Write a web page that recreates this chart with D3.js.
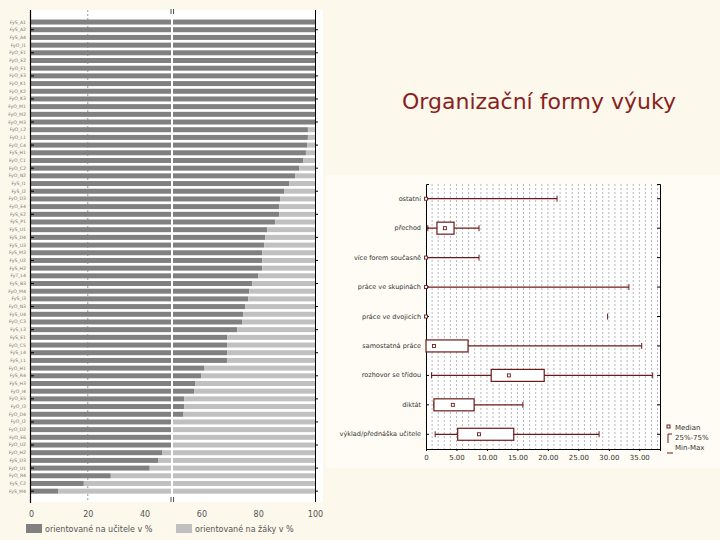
<!DOCTYPE html>
<html>
<head>
<meta charset="utf-8">
<script src="https://cdn.jsdelivr.net/npm/d3@7"></script>
<style>
  body { margin: 0; background: #fcf8ec; }
  svg { display: block; }
  text { font-family: "DejaVu Sans", sans-serif; }
</style>
</head>
<body>
<div id="chart"></div>
<script>
// left chart: share of lessons per teacher
var teacherCodes = ["FyS_A1", "FyS_A2", "FyS_A4", "FyO_I1", "FyO_E1", "FyO_E2", "FyO_F1", "FyO_E3",
  "FyO_K1", "FyO_K2", "FyO_K3", "FyO_M1", "FyO_M2", "FyO_M3", "FyO_L2", "FyO_L1", "FyO_C4", "FyS_H1",
  "FyO_C1", "FyO_C2", "FyO_N2", "FyS_I1", "FyS_I2", "FyO_D3", "FyO_E4", "FyS_E2", "FyS_P1", "FyS_U1",
  "FyS_D4", "FyS_U3", "FyS_M3", "FyS_U2", "FyS_H2", "FyT_L4", "FyS_B3", "FyO_M4", "FyS_I3", "FyO_N3",
  "FyS_U4", "FyO_C3", "FyS_L3", "FyS_E1", "FyO_C5", "FyS_L4", "FyS_L1", "FyO_H1", "FyS_R4", "FyS_H3",
  "FyO_I4", "FyO_E5", "FyO_I3", "FyO_D4", "FyO_I2", "FyO_D2", "FyO_E6", "FyO_U2", "FyO_H2", "FyS_D3",
  "FyO_U1", "FyO_R4", "FyS_C2", "FyS_M4"];
var teacherPct = [100, 100, 100, 100, 100, 100, 100, 100, 100, 100, 100, 100, 100, 100,
  97.5, 97.5, 97.2, 96.8, 95.8, 94.4, 93.0, 90.9, 89.1, 87.7, 87.4, 87.4, 86.0, 83.2, 82.5, 82.1,
  81.4, 81.4, 81.4, 80.0, 77.9, 76.8, 76.5, 75.4, 74.7, 74.4, 72.6, 69.1, 69.1, 69.1, 69.0, 61.1,
  60.0, 57.9, 57.5, 54.0, 54.0, 53.7, 50, 50, 50, 50, 46.3, 44.9, 41.8, 28.1, 18.6, 9.5];
var pctTicks = [0, 20, 40, 60, 80, 100];
var legendLeft = ["orientované na učitele v %", "orientované na žáky v %"];

// right chart: box plot of lesson forms (minutes)
var forms = ["ostatní", "přechod", "více forem současně", "práce ve skupinách", "práce ve dvojicích",
  "samostatná práce", "rozhovor se třídou", "diktát", "výklad/přednáška učitele"];
var formMin = [0, 0.3, 0, 0, 0, 0, 0.9, 1.3, 1.5];
var formQ1 = [0, 1.8, 0, 0, 0, 0, 10.7, 1.3, 5.2];
var formMedian = [0, 3.1, 0, 0, 0, 1.3, 13.6, 4.4, 8.7];
var formQ3 = [0, 4.6, 0, 0, 0, 6.9, 19.4, 7.9, 14.4];
var formMax = [21.5, 8.7, 8.7, 33.3, 0, 35.4, 37.2, 15.9, 28.4];
var formOutlier = [null, null, null, null, 29.8, null, null, null, null];
var minuteTicks = [0, 5, 10, 15, 20, 25, 30, 35];

var W = 720, H = 540;
var svg = d3.select("#chart").append("svg").attr("width", W).attr("height", H);
svg.append("rect").attr("width", W).attr("height", H).attr("fill", "#fcf8ec");

// ---------- left: 100% stacked bars ----------
var dark = "#808080", light = "#c0c0c0";
var left = svg.append("g");
left.append("rect").attr("x", 30).attr("y", 10).attr("width", 293).attr("height", 492).attr("fill", "#ffffff");

var x = d3.scaleLinear().domain([0, 100]).range([31, 315]);
var y = d3.scaleBand().domain(d3.range(teacherCodes.length)).range([18.2, 495])
  .paddingInner(0.35).paddingOuter(0.175);

left.append("line").attr("x1", x(20)).attr("x2", x(20)).attr("y1", 10).attr("y2", 502)
  .attr("stroke", "#999").attr("stroke-dasharray", "2,2");

var rows = left.selectAll("g.row").data(teacherPct).enter().append("g").attr("class", "row");
rows.append("rect")
  .attr("x", x(0)).attr("y", function (d, i) { return y(i); })
  .attr("width", function (d) { return x(d) - x(0); })
  .attr("height", y.bandwidth()).attr("fill", dark);
rows.append("rect")
  .attr("x", function (d) { return x(d); }).attr("y", function (d, i) { return y(i); })
  .attr("width", function (d) { return x(100) - x(d); })
  .attr("height", y.bandwidth()).attr("fill", light);

// axis break: white strip with a double mark at both ends
left.append("rect").attr("x", 171).attr("y", 12).attr("width", 2).attr("height", 488).attr("fill", "#ffffff");
[9, 497].forEach(function (yy) {
  [171, 173.5].forEach(function (xx) {
    left.append("line").attr("x1", xx).attr("x2", xx).attr("y1", yy).attr("y2", yy + 5)
      .attr("stroke", "#222").attr("stroke-width", 0.8);
  });
});

var yAxisL = d3.axisLeft(y).tickSize(0).tickPadding(4).tickFormat(function (i) { return teacherCodes[i]; });
var gyl = left.append("g").attr("transform", "translate(30,0)").call(yAxisL);
gyl.select(".domain").remove();
gyl.selectAll("text").attr("font-size", 4.6).attr("fill", "#777");
left.append("line").attr("x1", 30.5).attr("x2", 30.5).attr("y1", 10).attr("y2", 503).attr("stroke", "#000").attr("stroke-width", 1.2);
left.append("line").attr("x1", 315.5).attr("x2", 315.5).attr("y1", 10).attr("y2", 502).attr("stroke", "#000");
teacherPct.forEach(function (d, i) {
  if (i % 3 === 1) {
    var cy = y(i) + y.bandwidth() / 2;
    left.append("line").attr("x1", 31).attr("x2", 34).attr("y1", cy).attr("y2", cy).attr("stroke", "#000");
    left.append("line").attr("x1", 315).attr("x2", 318).attr("y1", cy).attr("y2", cy).attr("stroke", "#000");
  }
});

var xAxisL = d3.axisBottom(x).tickValues(pctTicks).tickSize(0).tickPadding(8);
var gxl = left.append("g").attr("transform", "translate(0,503)").call(xAxisL);
gxl.select(".domain").remove();
gxl.selectAll("text").attr("font-size", 8).attr("fill", "#555");

var legL = left.selectAll("g.leg").data(legendLeft).enter().append("g").attr("class", "leg")
  .attr("transform", function (d, i) { return "translate(" + (i === 0 ? 26 : 176) + ",524)"; });
legL.append("rect").attr("width", 16).attr("height", 9).attr("fill", function (d, i) { return i === 0 ? dark : light; });
legL.append("text").attr("x", 19).attr("y", 8).attr("font-size", 8).attr("fill", "#555").text(function (d) { return d; });

// ---------- right: title + box plot ----------
svg.append("text").attr("x", 539).attr("y", 109).attr("text-anchor", "middle")
  .attr("font-family", "Open Sans, sans-serif").attr("font-size", 22).attr("fill", "#8a1f1f")
  .text("Organizační formy výuky");

var right = svg.append("g");
right.append("rect").attr("x", 326).attr("y", 175).attr("width", 394).attr("height", 293).attr("fill", "#fefcf4");
right.append("rect").attr("x", 426).attr("y", 184).attr("width", 234).attr("height", 265).attr("fill", "#ffffff");

var bx = d3.scaleLinear().domain([0, 38.4]).range([426, 660]);
var by = d3.scaleBand().domain(forms).range([184, 449]);
var boxCol = "#6a1a1a";

right.selectAll("line.grid").data(d3.range(1, 39)).enter().append("line").attr("class", "grid")
  .attr("x1", function (d) { return bx(d); }).attr("x2", function (d) { return bx(d); })
  .attr("y1", 184).attr("y2", 449).attr("stroke", "#999").attr("stroke-width", 0.7).attr("stroke-dasharray", "2,2");

var yAxisR = d3.axisLeft(by).tickSize(-3).tickPadding(5);
var gyr = right.append("g").attr("transform", "translate(426,0)").call(yAxisR);
gyr.selectAll("text").attr("font-size", 6.5).attr("fill", "#333");
gyr.select(".domain").attr("stroke", "#000");
var gyr2 = right.append("g").attr("transform", "translate(660,0)").call(d3.axisRight(by).tickSize(-3).tickFormat(""));
gyr2.select(".domain").attr("stroke", "#000");

var xAxisR = d3.axisBottom(bx).tickValues(minuteTicks).tickSize(2).tickPadding(4)
  .tickFormat(function (d) { return d === 0 ? "0" : d3.format(".2f")(d); });
var gxr = right.append("g").attr("transform", "translate(0,449)").call(xAxisR);
gxr.selectAll("text").attr("font-size", 7).attr("fill", "#333");
gxr.select(".domain").attr("stroke", "#000");

var bh = 12, cap = 3;
var boxes = right.selectAll("g.box").data(forms).enter().append("g").attr("class", "box")
  .attr("transform", function (d) { return "translate(0," + (by(d) + by.bandwidth() / 2) + ")"; });
boxes.each(function (d, i) {
  var g = d3.select(this);
  if (formMax[i] > formMin[i]) {
    g.append("line").attr("x1", bx(formMin[i])).attr("x2", bx(formMax[i])).attr("stroke", boxCol).attr("stroke-width", 1.2);
    g.append("line").attr("x1", bx(formMax[i])).attr("x2", bx(formMax[i])).attr("y1", -cap).attr("y2", cap).attr("stroke", boxCol);
    if (formMin[i] > 0) {
      g.append("line").attr("x1", bx(formMin[i])).attr("x2", bx(formMin[i])).attr("y1", -cap).attr("y2", cap).attr("stroke", boxCol);
    }
  }
  if (formQ3[i] > formQ1[i]) {
    g.append("rect").attr("x", bx(formQ1[i])).attr("y", -bh / 2).attr("width", bx(formQ3[i]) - bx(formQ1[i]))
      .attr("height", bh).attr("fill", "#fff").attr("stroke", boxCol).attr("stroke-width", 1.2);
  }
  g.append("rect").attr("x", bx(formMedian[i]) - 1.5).attr("y", -1.5).attr("width", 3).attr("height", 3)
    .attr("fill", "#fff").attr("stroke", boxCol).attr("stroke-width", 0.9);
  if (formOutlier[i] !== null) {
    g.append("line").attr("x1", bx(formOutlier[i])).attr("x2", bx(formOutlier[i])).attr("y1", -cap).attr("y2", cap).attr("stroke", boxCol);
  }
});

// box plot legend
var lg = right.append("g").attr("transform", "translate(667,424)");
lg.append("rect").attr("x", 0).attr("y", 1).attr("width", 3).attr("height", 3).attr("fill", "#fff").attr("stroke", boxCol);
lg.append("text").attr("x", 8).attr("y", 6).attr("font-size", 7).attr("fill", "#333").text("Median");
lg.append("path").attr("d", "M5,10 H1 V19").attr("fill", "none").attr("stroke", boxCol);
lg.append("text").attr("x", 8).attr("y", 16).attr("font-size", 7).attr("fill", "#333").text("25%-75%");
lg.append("line").attr("x1", 0).attr("x2", 6).attr("y1", 29).attr("y2", 29).attr("stroke", boxCol);
lg.append("text").attr("x", 8).attr("y", 26).attr("font-size", 7).attr("fill", "#333").text("Min-Max");
</script>
</body>
</html>
